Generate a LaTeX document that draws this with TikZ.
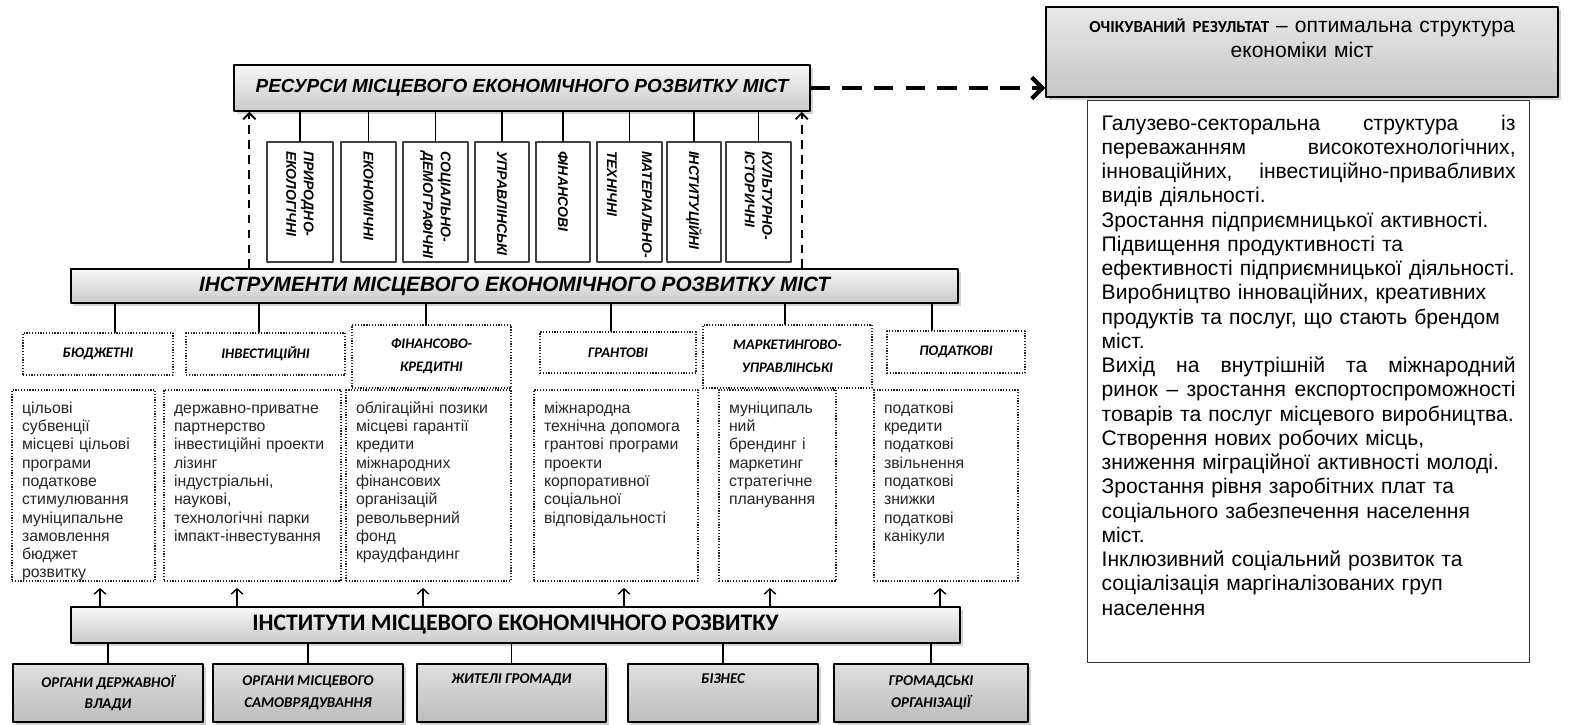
\documentclass[tikz,border=0pt]{standalone}
\usepackage{fontspec}
\setmainfont{Liberation Sans}
\newfontfamily\calibri{Carlito}
\usetikzlibrary{arrows.meta,calc,positioning,shadows}
\newcommand\spreadline[1]{\makebox[8.28cm][s]{#1}}

\begin{document}
\begin{tikzpicture}[x=0.02cm, y=-0.02cm, line cap=round, line join=round,
	banner/.style={draw=black, line width=0.9pt, top color=gray!6, bottom color=gray!42,
		drop shadow={opacity=0.35, shadow xshift=1.6pt, shadow yshift=-1.6pt}},
	resbox/.style={draw=black!75, line width=0.6pt, fill=white, rotate=-90, align=left,
		inner xsep=0.18cm, text width=2.04cm, minimum height=#1,
		font=\fontsize{8}{10}\selectfont\bfseries\itshape},
	dotbox/.style={draw=black!85, line width=1pt, line cap=butt, dash pattern=on 0.7pt off 0.9pt, fill=white},
	catbox/.style={dotbox, align=center, font=\calibri\fontsize{8.3}{13}\selectfont\bfseries\itshape},
	listbox/.style={dotbox, anchor=north, align=left, inner xsep=0.2cm, inner ysep=0.15cm,
		text height=0.32cm, text depth=3.2cm, text width=#1, text=black!85,
		font=\fontsize{9}{10.4}\selectfont},
	orgbox/.style={banner, top color=gray!25, bottom color=gray!52, minimum width=#1,
		minimum height=1.16cm, align=center, font=\calibri\fontsize{8.5}{12.3}\selectfont\bfseries\itshape},
	link/.style={line width=0.9pt},
	uparrow/.style={-{Straight Barb[length=3pt,width=6.5pt]}, line width=0.8pt, shorten >=3.5pt},
	dashup/.style={-{Straight Barb[length=3.5pt,width=7pt]}, line width=1.1pt, line cap=butt, dash pattern=on 5pt off 3.5pt},
	bigdash/.style={-{Straight Barb[length=6pt,width=12pt]}, line width=2.4pt, line cap=butt, dash pattern=on 11pt off 7pt}
	]
	\useasboundingbox (0,0) rectangle (1571,724);

	% --- 1. RESOURCES ---
	\node[banner, minimum width=11.52cm, minimum height=0.92cm,
		font=\fontsize{10.8}{13}\selectfont\bfseries\itshape] (res) at (522,88)
		{РЕСУРСИ МІСЦЕВОГО ЕКОНОМІЧНОГО РОЗВИТКУ МІСТ};
	\node[resbox=1.32cm] (r1) at (300,202) {ПРИРОДНО-\\ЕКОЛОГІЧНІ};
	\node[resbox=1.10cm] (r2) at (368.5,202) {ЕКОНОМІЧНІ};
	\node[resbox=1.30cm] (r3) at (435.5,202) {СОЦІАЛЬНО-\\ДЕМОГРАФІЧНІ};
	\node[resbox=1.08cm] (r4) at (502,202) {УПРАВЛІНСЬКІ};
	\node[resbox=1.08cm] (r5) at (563,202) {ФІНАНСОВІ};
	\node[resbox=1.30cm] (r6) at (629.5,202) {МАТЕРІАЛЬНО-\\ТЕХНІЧНІ};
	\node[resbox=1.08cm] (r7) at (694,202) {ІНСТИТУЦІЙНІ};
	\node[resbox=1.30cm] (r8) at (758.5,202) {КУЛЬТУРНО-\\ІСТОРИЧНІ};
	\foreach \i in {1,...,8}
		\draw[link] (r\i.west) -- (r\i.west |- res.south);

	% --- 2. TOOLS ---
	\node[banner, minimum width=17.74cm, minimum height=0.68cm,
		font=\fontsize{11.8}{14}\selectfont\bfseries\itshape] (tools) at (514.5,286)
		{ІНСТРУМЕНТИ МІСЦЕВОГО ЕКОНОМІЧНОГО РОЗВИТКУ МІСТ};

	\node[catbox, minimum width=3cm, minimum height=0.84cm] (c1) at (98,354) {БЮДЖЕТНІ};
	\node[catbox, minimum width=3.18cm, minimum height=0.84cm] (c2) at (265.5,354) {ІНВЕСТИЦІЙНІ};
	\node[catbox, minimum width=3.18cm, minimum height=1.26cm] (c3) at (431.5,356.5) {ФІНАНСОВО-\\КРЕДИТНІ};
	\node[catbox, minimum width=3.12cm, minimum height=0.82cm] (c4) at (618,352.5) {ГРАНТОВІ};
	\node[catbox, minimum width=3.38cm, minimum height=1.26cm] (c5) at (787.5,356.5) {МАРКЕТИНГОВО-\\УПРАВЛІНСЬКІ};
	\node[catbox, minimum width=2.76cm, minimum height=0.84cm] (c6) at (956,352) {ПОДАТКОВІ};
	\foreach \c/\s in {c1/0.34, c2/-0.13, c3/-0.11, c4/-0.14, c5/-0.05, c6/-0.48} {
		\coordinate (k) at ([xshift=\s cm]\c.north);
		\draw[link] (k) -- (k |- tools.south);
	}

	% lists under every kind of tool
	\node[listbox=2.46cm] (l1) at (83.5,389) {цільові\\субвенції\\місцеві цільові\\програми\\податкове\\стимулювання\\муніципальне\\замовлення\\бюджет\\розвитку};
	\node[listbox=3.14cm] (l2) at (252.5,389) {державно-приватне\\партнерство\\інвестиційні проекти\\лізинг\\індустріальні,\\наукові,\\технологічні парки\\імпакт-інвестування};
	\node[listbox=2.90cm] (l3) at (428.5,389) {облігаційні позики\\місцеві гарантії\\кредити\\міжнародних\\фінансових\\організацій\\револьверний\\фонд\\краудфандинг};
	\node[listbox=2.88cm] (l4) at (616,389) {міжнародна\\технічна допомога\\грантові програми\\проекти\\корпоративної\\соціальної\\відповідальності};
	\node[listbox=1.94cm] (l5) at (777.5,389) {муніципаль\\ний\\брендинг і\\маркетинг\\стратегічне\\планування};
	\node[listbox=2.48cm] (l6) at (946,389) {податкові\\кредити\\податкові\\звільнення\\податкові\\знижки\\податкові\\канікули};

	% --- 3. INSTITUTES ---
	\node[banner, minimum width=17.78cm, minimum height=0.72cm,
		font=\calibri\fontsize{13.5}{16}\selectfont\bfseries] (inst) at (515.5,625)
		{ІНСТИТУТИ МІСЦЕВОГО ЕКОНОМІЧНОГО РОЗВИТКУ};
	\foreach \l/\s in {l1/0.33, l2/-0.31, l3/-0.11, l4/0.16, l5/-0.15, l6/-0.12} {
		\coordinate (u) at ([xshift=\s cm]\l.south);
		\draw[uparrow] (u |- inst.north) -- (u);
	}

	\node[orgbox=3.8cm] (b1) at (108,693) {ОРГАНИ ДЕРЖАВНОЇ\\ВЛАДИ};
	\node[orgbox=3.8cm] (b2) at (308,693) {ОРГАНИ МІСЦЕВОГО\\САМОВРЯДУВАННЯ};
	\node[orgbox=3.78cm] (b3) at (511.5,693) {ЖИТЕЛІ ГРОМАДИ\\\strut};
	\node[orgbox=3.8cm] (b4) at (723,693) {БІЗНЕС\\\strut};
	\node[orgbox=3.88cm] (b5) at (931,693) {ГРОМАДСЬКІ\\ОРГАНІЗАЦІЇ};
	\foreach \i in {1,...,5}
		\draw[link] (b\i.north) -- (b\i.north |- inst.south);

	% --- 4. EXPECTED RESULT ---
	\node[banner, top color=gray!18, bottom color=gray!45, anchor=north,
		text width=9.84cm, inner xsep=0.2cm, inner ysep=0.12cm,
		text height=0.4cm, text depth=1.16cm, align=center,
		font=\fontsize{12}{14.2}\selectfont] (goal) at (1302,6)
		{{\calibri\bfseries\fontsize{9.6}{14.2}\selectfont ОЧІКУВАНИЙ РЕЗУЛЬТАТ} – оптимальна структура\\економіки міст};

	\node[draw=black!80, line width=0.8pt, fill=white, anchor=north west,
		text width=8.28cm, inner xsep=0.28cm, inner ysep=0.2cm,
		text height=0.39cm, text depth=10.45cm, align=left,
		font=\fontsize{12}{13.8}\selectfont] (eff) at (1087,100)
		{\spreadline{Галузево-секторальна\hfill структура\hfill із}\\
		\spreadline{переважанням\hfill високотехнологічних,}\\
		\spreadline{інноваційних,\hfill інвестиційно-привабливих}\\
		видів діяльності.\\
		Зростання підприємницької активності.\\
		Підвищення продуктивності та\\
		ефективності підприємницької діяльності.\\
		Виробництво інноваційних, креативних\\
		продуктів та послуг, що стають брендом\\
		міст.\\
		\spreadline{Вихід\hfill на\hfill внутрішній\hfill та\hfill міжнародний}\\
		\spreadline{ринок\hfill –\hfill зростання\hfill експортоспроможності}\\
		товарів та послуг місцевого виробництва.\\
		Створення нових робочих місць,\\
		зниження міграційної активності молоді.\\
		Зростання рівня заробітних плат та\\
		соціального забезпечення населення\\
		міст.\\
		Інклюзивний соціальний розвиток та\\
		соціалізація маргіналізованих груп\\
		населення};

	% dashed links up to resources and on to the result
	\coordinate (dl) at ($(tools.north west)+(179,0)$);
	\coordinate (dr) at ($(tools.north east)+(-157,0)$);
	\draw[dashup] (dl) -- (dl |- res.south);
	\draw[dashup] (dr) -- (dr |- res.south);
	\draw[bigdash] (res.east) -- (res.east -| goal.west);

\end{tikzpicture}
\end{document}
